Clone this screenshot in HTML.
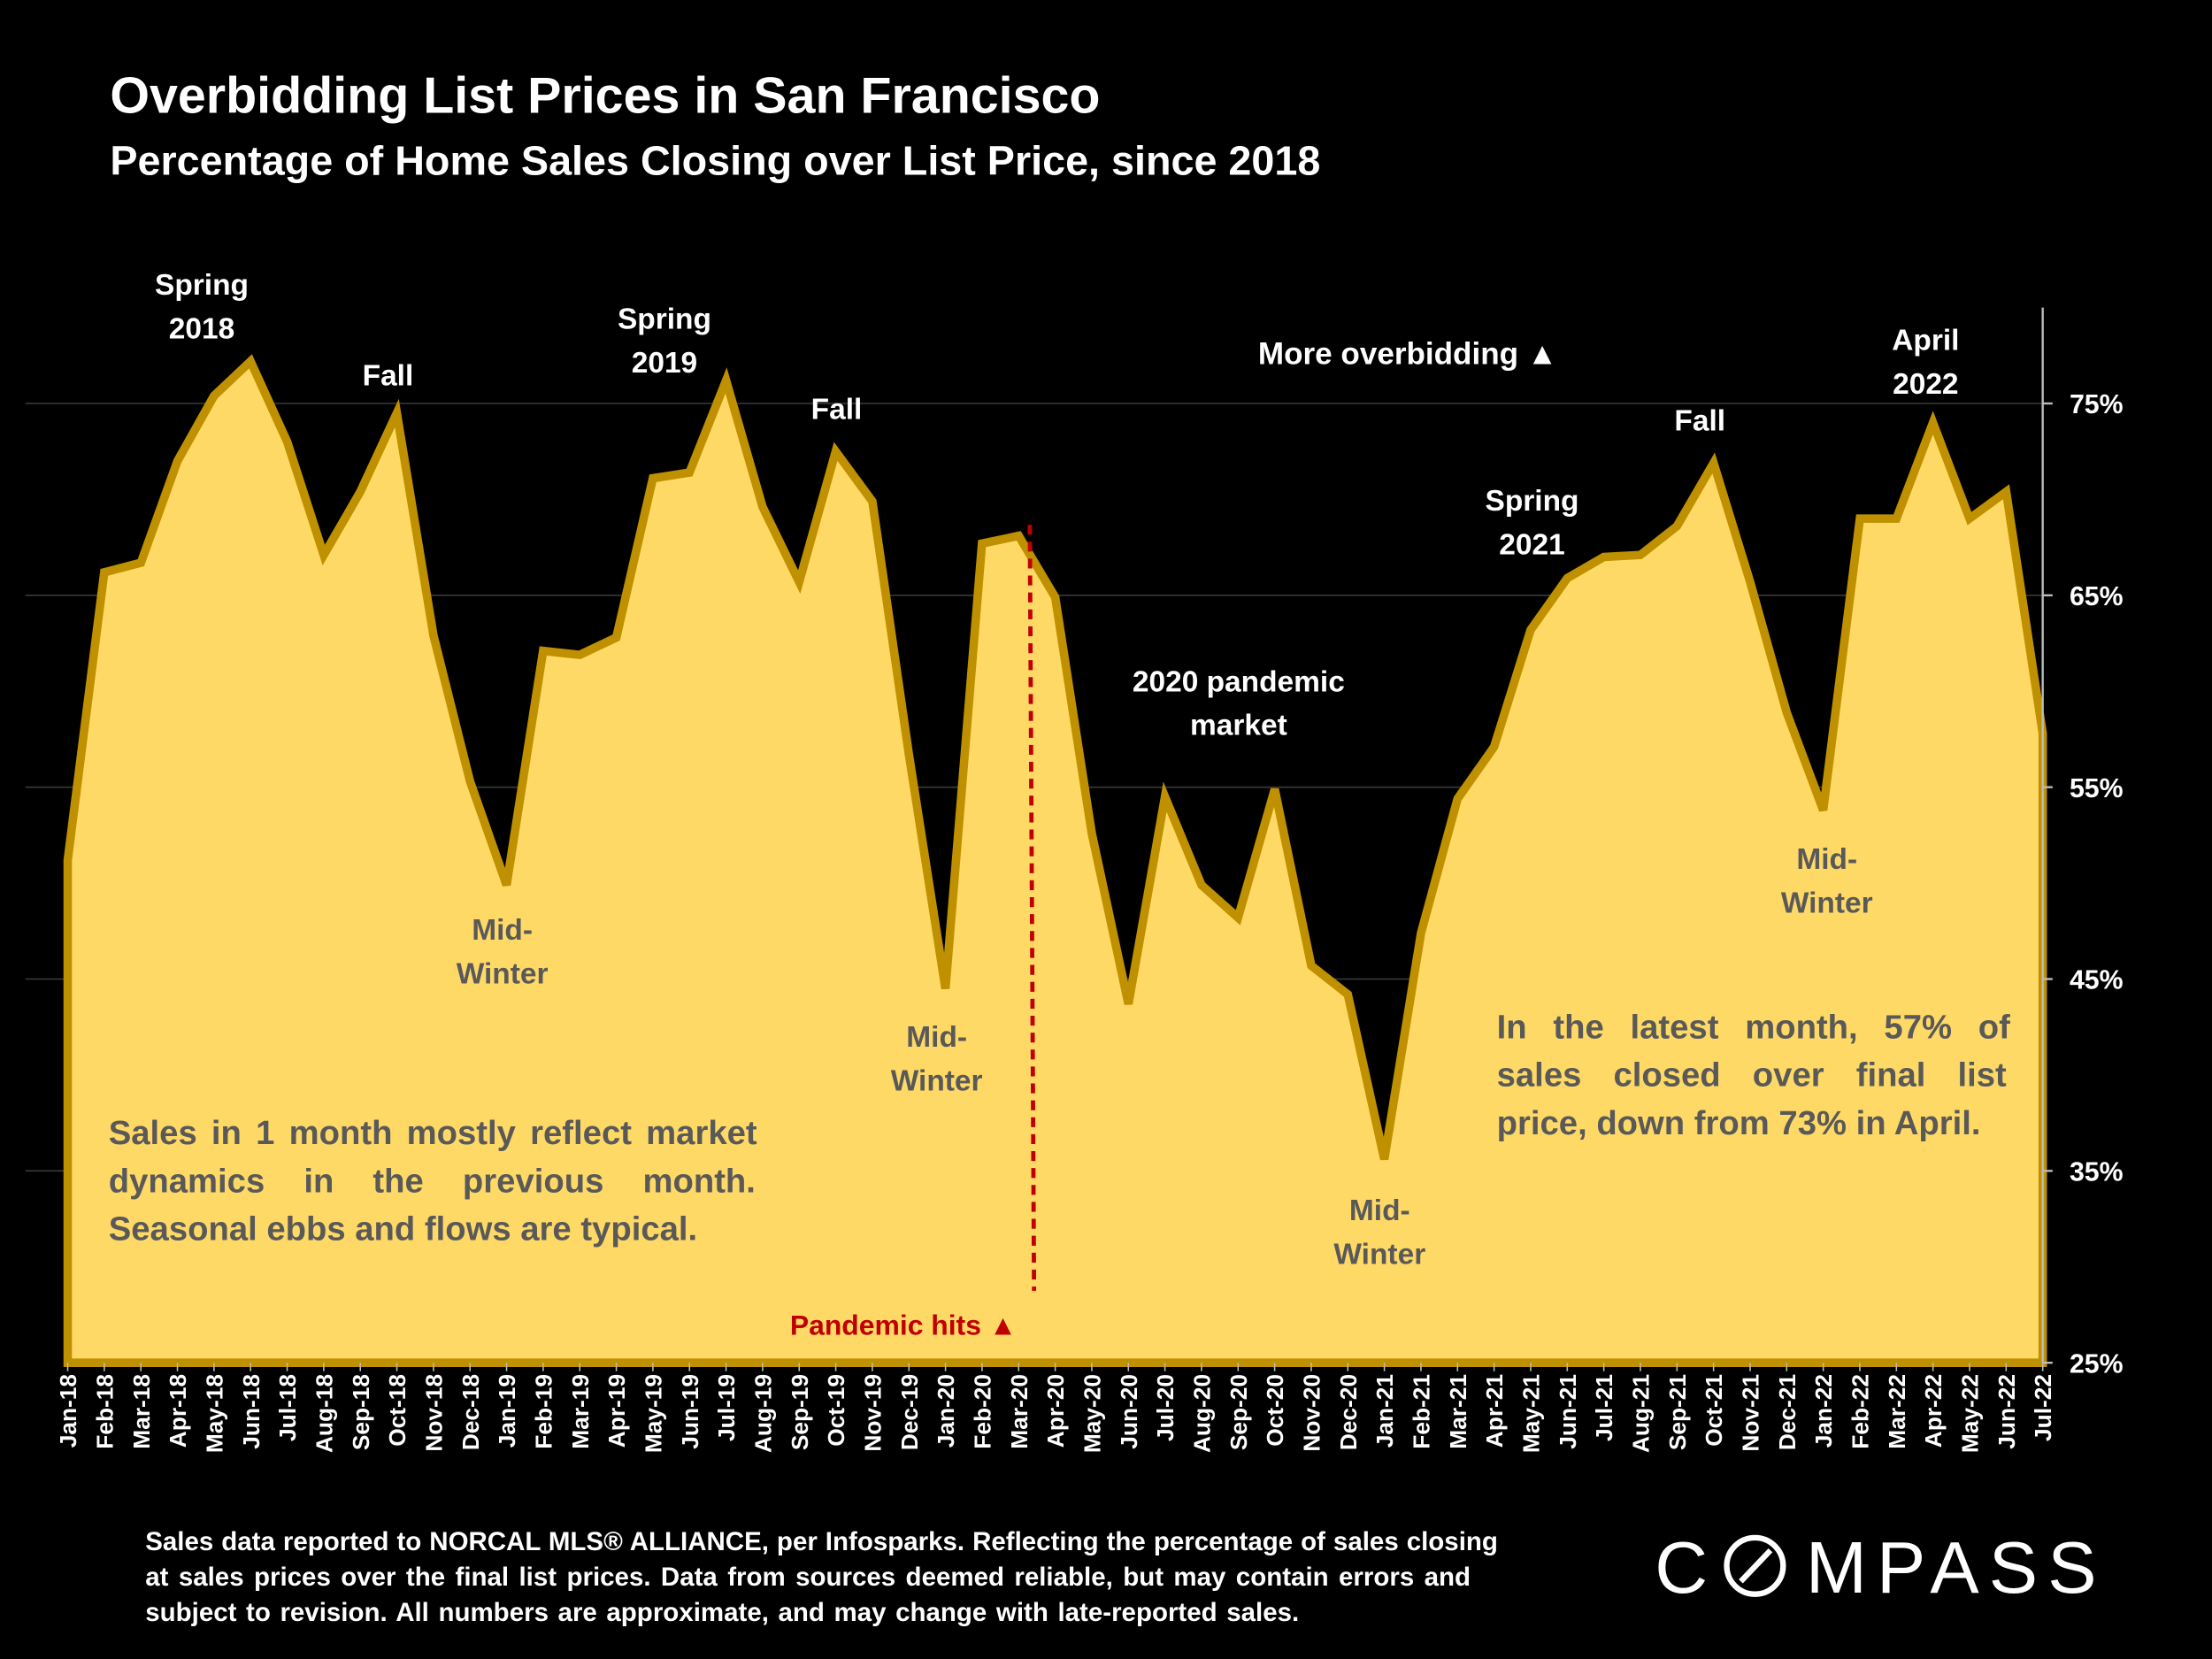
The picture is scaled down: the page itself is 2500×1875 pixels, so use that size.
<!DOCTYPE html>
<html><head><meta charset="utf-8"><style>
html,body{margin:0;padding:0;background:#000;}
svg{display:block;}
text{font-family:"Liberation Sans",sans-serif;}
</style></head><body>
<svg id="chart" width="2500" height="1875" viewBox="0 0 1568 1176" xmlns="http://www.w3.org/2000/svg">
<rect x="0" y="0" width="1568" height="1176" fill="#000"/>
<text x="78" y="80" fill="#fff" font-size="36" font-weight="bold">Overbidding List Prices in San Francisco</text>
<text x="78" y="124" fill="#fff" font-size="29.3" font-weight="bold">Percentage of Home Sales Closing over List Price, since 2018</text>
<g id="grid"></g>
<g id="area"></g>
<g id="axis"></g>
<g id="xaxis"></g>
<g id="notes">
<line x1="730" y1="372" x2="733" y2="915" stroke="#C00000" stroke-width="3" stroke-dasharray="7,5"/>
<text x="560" y="946" fill="#C00000" font-size="20" font-weight="bold">Pandemic hits ▲</text>
<g fill="#fff" font-size="21" font-weight="bold" text-anchor="middle">
<text x="143" y="209">Spring</text>
<text x="143" y="240">2018</text>
<text x="275" y="273">Fall</text>
<text x="471" y="233">Spring</text>
<text x="471" y="264">2019</text>
<text x="593" y="297">Fall</text>
<text x="878" y="490">2020 pandemic</text>
<text x="878" y="521">market</text>
<text x="998" y="258" font-size="22">More overbidding ▲</text>
<text x="1086" y="362">Spring</text>
<text x="1086" y="393">2021</text>
<text x="1205" y="305">Fall</text>
<text x="1365" y="248">April</text>
<text x="1365" y="279">2022</text>
</g>
<g fill="#595959" font-size="21" font-weight="bold" text-anchor="middle">
<text x="356" y="666">Mid-</text>
<text x="356" y="697">Winter</text>
<text x="664" y="742">Mid-</text>
<text x="664" y="773">Winter</text>
<text x="978" y="865">Mid-</text>
<text x="978" y="896">Winter</text>
<text x="1295" y="616">Mid-</text>
<text x="1295" y="647">Winter</text>
</g>
<g fill="#595959" font-size="24" font-weight="bold">
<text x="77" y="811" word-spacing="3.5">Sales in 1 month mostly reflect market</text>
<text x="77" y="845" word-spacing="21">dynamics in the previous month.</text>
<text x="77" y="879">Seasonal ebbs and flows are typical.</text>
<text x="1061" y="736" word-spacing="12">In the latest month, 57% of</text>
<text x="1061" y="770" word-spacing="16">sales closed over final list</text>
<text x="1061" y="804">price, down from 73% in April.</text>
</g>
</g>
<g fill="#fff" font-size="18.5" font-weight="bold" word-spacing="0.5">
<text x="103" y="1099">Sales data reported to NORCAL MLS® ALLIANCE, per Infosparks. Reflecting the percentage of sales closing</text>
<text x="103" y="1124" word-spacing="2">at sales prices over the final list prices. Data from sources deemed reliable, but may contain errors and</text>
<text x="103" y="1149" word-spacing="1.5">subject to revision. All numbers are approximate, and may change with late-reported sales.</text>
</g>
<g>
<text x="1173" y="1129" fill="#fff" font-size="52">C</text>
<circle cx="1244" cy="1110" r="20" fill="none" stroke="#fff" stroke-width="4"/>
<line x1="1234" y1="1121" x2="1255" y2="1099" stroke="#fff" stroke-width="4"/>
<text x="1280" y="1129" fill="#fff" font-size="52" letter-spacing="7">MPASS</text>
</g>
</svg>
<script>
const months=["Jan-18","Feb-18","Mar-18","Apr-18","May-18","Jun-18","Jul-18","Aug-18","Sep-18","Oct-18","Nov-18","Dec-18","Jan-19","Feb-19","Mar-19","Apr-19","May-19","Jun-19","Jul-19","Aug-19","Sep-19","Oct-19","Nov-19","Dec-19","Jan-20","Feb-20","Mar-20","Apr-20","May-20","Jun-20","Jul-20","Aug-20","Sep-20","Oct-20","Nov-20","Dec-20","Jan-21","Feb-21","Mar-21","Apr-21","May-21","Jun-21","Jul-21","Aug-21","Sep-21","Oct-21","Nov-21","Dec-21","Jan-22","Feb-22","Mar-22","Apr-22","May-22","Jun-22","Jul-22"];
const pctOverList=[51.2,66.2,66.7,72,75.4,77.2,73,67.1,70.4,74.5,62.9,55.3,49.9,62.1,61.9,62.8,71.1,71.4,76.2,69.6,65.7,72.5,69.9,56.7,44.5,67.7,68.1,64.9,52.6,43.7,54.5,49.9,48.2,54.9,45.7,44.2,35.6,47.4,54.4,57.1,63.2,65.9,67,67.1,68.6,71.9,65.7,58.9,53.8,69,69,74,69,70.4,57.8];
const yTicks=[25,35,45,55,65,75];
const NS="http://www.w3.org/2000/svg";
const X0=48,X1=1448,Y25=966,PXPER=13.6;
function xs(i){return X0+(X1-X0)*i/(months.length-1);}
function ys(v){return Y25-(v-25)*PXPER;}
function mk(tag,attrs,parent){const e=document.createElementNS(NS,tag);for(const k in attrs)e.setAttribute(k,attrs[k]);parent.appendChild(e);return e;}
const grid=document.getElementById('grid'),area=document.getElementById('area'),axis=document.getElementById('axis'),xaxis=document.getElementById('xaxis');
yTicks.forEach(t=>{
 if(t>25){const l=mk('line',{x1:18,x2:X1,y1:ys(t),y2:ys(t),stroke:'#3a3a3a','stroke-width':1},grid);
 
 }
 const tk=mk('line',{x1:X1,x2:X1+7,y1:ys(t),y2:ys(t),stroke:'#bbb','stroke-width':1.5},axis);
 
 
 const tx=mk('text',{x:1467,y:ys(t)+7,fill:'#fff','font-size':19,'font-weight':'bold'},axis);
 tx.textContent=t+'%';
 
 
});
const al=mk('line',{x1:X1,x2:X1,y1:218,y2:Y25,stroke:'#bbb','stroke-width':1.5},axis);


let d='M'+xs(0)+','+Y25;
pctOverList.forEach((v,i)=>{d+=' L'+xs(i).toFixed(1)+','+ys(v).toFixed(1);});
d+=' L'+xs(months.length-1)+','+Y25+' Z';
const p=mk('path',{d:d,fill:'#FFD966',stroke:'#BF9000','stroke-width':6,'stroke-linejoin':'miter'},area);


months.forEach((m,i)=>{
 const x=xs(i);
 const tk=mk('line',{x1:x,x2:x,y1:Y25,y2:Y25+6,stroke:'#bbb','stroke-width':1},xaxis);
 
 
 const t=mk('text',{x:0,y:0,fill:'#fff','font-size':16.5,'font-weight':'bold','text-anchor':'end',transform:'translate('+(x+6)+','+(Y25+8)+') rotate(-90)'},xaxis);
 t.textContent=m;
 
 
});
</script>
</body></html>
